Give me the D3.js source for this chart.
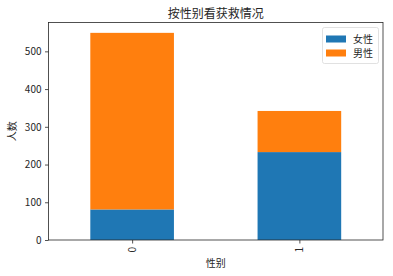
<!DOCTYPE html>
<html><head><meta charset="utf-8">
<script src="https://cdn.jsdelivr.net/npm/d3@7"></script>
<style>body{margin:0;background:#fff}svg{display:block}text{font-family:"Noto Sans CJK SC","DejaVu Sans",sans-serif;fill:#262626}</style>
</head><body>
<script>
const categories = ["0", "1"];
const seriesNames = ["女性", "男性"];
const female = [81, 233];
const male = [468, 109];
const yTicks = [0, 100, 200, 300, 400, 500];
const colors = ["#1f77b4", "#ff7f0e"];

const W = 393, H = 276;
const m = {l: 48.5, r: 10, t: 22.5, b: 36};
const svg = d3.select("body").append("svg").attr("width", W).attr("height", H);
const x = d3.scaleLinear().domain([-0.5, 1.5]).range([m.l, W - m.r]);
const totals = categories.map((c, i) => female[i] + male[i]);
const y = d3.scaleLinear().domain([0, d3.max(totals) * 1.05]).range([H - m.b, m.t]);

const stacks = [female, male];
stacks.forEach((vals, s) => {
  svg.append("g").selectAll("rect").data(categories).join("rect")
    .attr("x", (d, i) => x(i - 0.25))
    .attr("width", x(0.25) - x(-0.25))
    .attr("y", (d, i) => y((s ? female[i] : 0) + vals[i]))
    .attr("height", (d, i) => y(s ? female[i] : 0) - y((s ? female[i] : 0) + vals[i]))
    .attr("fill", colors[s]);
});

const ya = svg.append("g").attr("transform", `translate(${m.l},0)`)
  .call(d3.axisLeft(y).tickValues(yTicks).tickSize(3.5).tickPadding(3.5));
const xa = svg.append("g").attr("transform", `translate(0,${H - m.b})`)
  .call(d3.axisBottom(x).tickValues([0, 1]).tickFormat((d) => categories[d]).tickSize(3.5));
[ya, xa].forEach(a => { a.select(".domain").remove(); a.selectAll("line").attr("stroke", "#262626").attr("stroke-width", 0.8); a.selectAll("text").attr("font-size", 10).attr("fill", "#262626"); });
xa.selectAll("text").attr("transform", "rotate(-90)").attr("text-anchor", "end").attr("x", -7).attr("y", 0).attr("dy", "0.35em");

svg.append("rect").attr("x", m.l).attr("y", m.t).attr("width", W - m.r - m.l).attr("height", H - m.b - m.t)
  .attr("fill", "none").attr("stroke", "#262626").attr("stroke-width", 0.8);

svg.append("text").attr("x", (m.l + W - m.r) / 2).attr("y", 17.5).attr("text-anchor", "middle").attr("font-size", 12).text("按性别看获救情况");
svg.append("text").attr("x", (m.l + W - m.r) / 2).attr("y", 267).attr("text-anchor", "middle").attr("font-size", 10).text("性别");
svg.append("text").attr("transform", `translate(16,${(m.t + H - m.b) / 2}) rotate(-90)`).attr("text-anchor", "middle").attr("font-size", 10).text("人数");

const lg = svg.append("g");
lg.append("rect").attr("x", 322.5).attr("y", 27.5).attr("width", 56).attr("height", 36).attr("rx", 2)
  .attr("fill", "#fff").attr("fill-opacity", 0.8).attr("stroke", "#d9d9d9").attr("stroke-width", 0.8);
seriesNames.forEach((n, i) => {
  lg.append("rect").attr("x", 326).attr("y", 35.5 + i * 14).attr("width", 20).attr("height", 7).attr("fill", colors[i]);
  lg.append("text").attr("x", 353).attr("y", 39 + i * 14).attr("dy", "0.35em").attr("font-size", 10).text(n);
});
</script>
</body></html>
